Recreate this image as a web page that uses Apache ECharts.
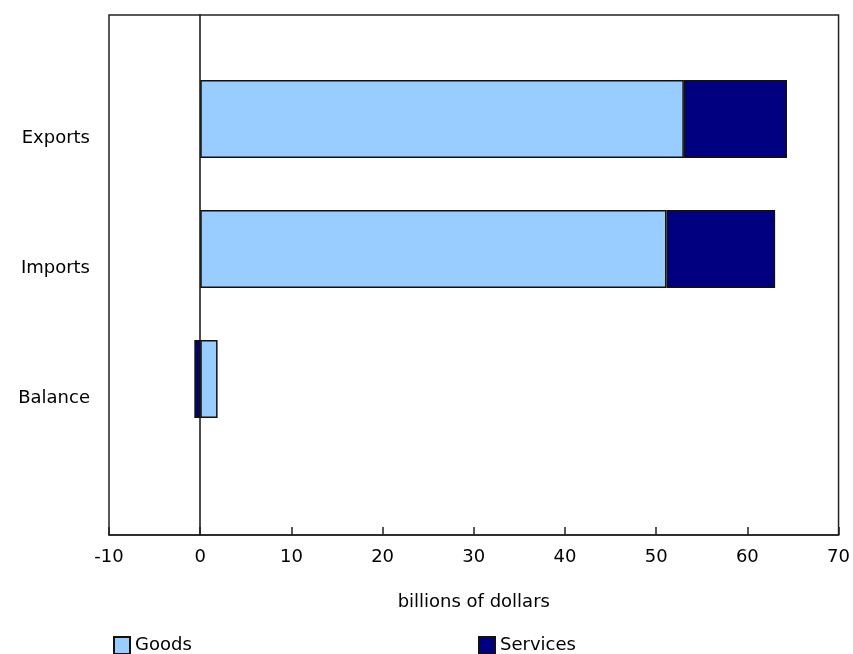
<!DOCTYPE html>
<html><head><meta charset="utf-8">
<script src="https://cdn.jsdelivr.net/npm/echarts@6/dist/echarts.min.js"></script>
<style>html,body{margin:0;padding:0;background:#fff}#c{width:853px;height:654px}</style>
</head><body><div id="c"></div>
<script>
const categories = ['Exports', 'Imports', 'Balance', ''];
const goods = [53.0, 51.1, 1.9, null];
const services = [11.3, 11.9, -0.65, null];
const xTicks = { min: -10, max: 70, interval: 10 };
const axisTitle = 'billions of dollars';
const font = 'DejaVu Sans, Verdana, sans-serif';
const fs = 18;

const chart = echarts.init(document.getElementById('c'));
chart.setOption({
  animation: false,
  grid: [
    { left: 109, right: 14, top: 15, bottom: 119, show: true, borderColor: '#222', borderWidth: 1.5 },
    { left: 109, right: 14, top: 54, bottom: 80 }
  ],
  xAxis: [
    {
      gridIndex: 0, type: 'value', min: xTicks.min, max: xTicks.max, interval: xTicks.interval,
      splitLine: { show: false },
      axisLine: { show: true, lineStyle: { color: '#222', width: 1.5 } },
      axisTick: { show: true, inside: true, length: 8, lineStyle: { color: '#222', width: 1.5 } },
      axisLabel: { color: '#000', fontFamily: font, fontSize: fs, margin: 13 },
      name: axisTitle, nameLocation: 'middle', nameGap: 58,
      nameTextStyle: { color: '#000', fontFamily: font, fontSize: fs }
    },
    { gridIndex: 1, type: 'value', min: xTicks.min, max: xTicks.max, interval: xTicks.interval, show: false }
  ],
  yAxis: [
    {
      gridIndex: 0, type: 'category', data: ['z'],
      axisLine: { show: true, onZero: true, lineStyle: { color: '#111', width: 1.5 } },
      axisTick: { show: false }, axisLabel: { show: false }
    },
    {
      gridIndex: 1, type: 'category', data: categories, inverse: true,
      axisLine: { show: false }, axisTick: { show: false },
      axisLabel: { color: '#000', fontFamily: font, fontSize: fs, margin: 19,
        formatter: '{a|{value}}', rich: { a: { fontFamily: font, fontSize: fs, color: '#000', padding: [38, 0, 0, 0] } } }
    }
  ],
  legend: [
    { data: ['Goods'], left: 108, top: 631, itemWidth: 16, itemHeight: 17, itemGap: 8, icon: 'rect',
      textStyle: { color: '#000', fontFamily: font, fontSize: fs } },
    { data: ['Services'], left: 473, top: 631, itemWidth: 16, itemHeight: 17, icon: 'rect',
      textStyle: { color: '#000', fontFamily: font, fontSize: fs } }
  ],
  series: [
    { name: 'Goods', type: 'bar', stack: 's', xAxisIndex: 1, yAxisIndex: 1, data: goods, barWidth: '60%',
      itemStyle: { color: '#99CCFF', borderColor: '#111', borderWidth: 1.5 } },
    { name: 'Services', type: 'bar', stack: 's', xAxisIndex: 1, yAxisIndex: 1, data: services, barWidth: '60%',
      itemStyle: { color: '#000080', borderColor: '#111', borderWidth: 1.5 } }
  ]
});
</script></body></html>
